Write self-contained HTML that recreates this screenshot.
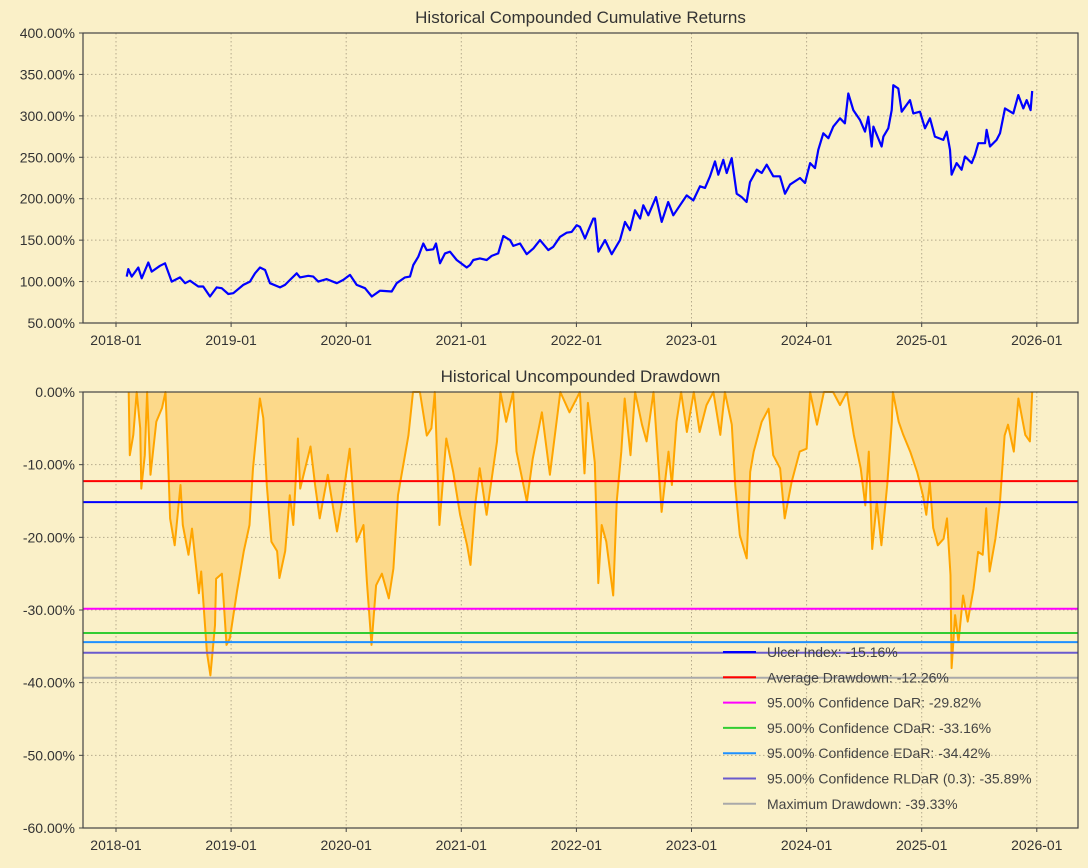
<!DOCTYPE html>
<html><head><meta charset="utf-8"><style>
html,body{margin:0;padding:0;background:#faf0c8;}
svg{display:block;font-family:"Liberation Sans","DejaVu Sans",sans-serif;}
</style></head><body>
<svg id="fig" width="1088" height="868" viewBox="0 0 1088 868"></svg>
<script>
const xTickLabels=["2018-01","2019-01","2020-01","2021-01","2022-01","2023-01","2024-01","2025-01","2026-01"];
const xTickYears=[0,1,2,3,4,5,6,7,8];
const topTicks=[400,350,300,250,200,150,100,50];
const botTicks=[0,-10,-20,-30,-40,-50,-60];
const cumYears=[0.093,0.107,0.136,0.194,0.223,0.281,0.310,0.382,0.426,0.484,0.556,0.600,0.643,0.715,0.758,0.817,0.875,0.918,0.976,1.019,1.106,1.164,1.208,1.251,1.295,1.338,1.425,1.468,1.512,1.570,1.599,1.671,1.714,1.758,1.831,1.918,1.975,2.033,2.091,2.163,2.222,2.294,2.395,2.439,2.511,2.554,2.583,2.626,2.670,2.699,2.757,2.780,2.815,2.858,2.902,2.960,3.047,3.076,3.104,3.162,3.221,3.264,3.321,3.365,3.423,3.452,3.510,3.568,3.626,3.684,3.756,3.799,3.858,3.916,3.959,4.003,4.031,4.075,4.104,4.147,4.162,4.191,4.249,4.307,4.379,4.422,4.466,4.509,4.553,4.581,4.625,4.692,4.741,4.798,4.842,4.900,4.958,5.016,5.074,5.117,5.161,5.204,5.233,5.276,5.306,5.349,5.393,5.436,5.479,5.508,5.567,5.610,5.653,5.711,5.769,5.812,5.856,5.943,5.986,6.030,6.073,6.102,6.145,6.189,6.232,6.290,6.333,6.362,6.406,6.464,6.507,6.536,6.566,6.580,6.652,6.667,6.710,6.739,6.753,6.797,6.826,6.898,6.927,6.985,7.029,7.072,7.115,7.188,7.217,7.246,7.260,7.303,7.347,7.376,7.434,7.463,7.492,7.550,7.564,7.593,7.651,7.680,7.724,7.796,7.839,7.883,7.912,7.946,7.960];
const cumValues=[106,115,106,117,104,123,112,119,122,100,105,98,101,94,94,82,93,92,85,86,96,100,110,117,114,98,93,96,102,110,105,107,106,100,103,98,102,108,96,92,82,89,88,98,105,106,120,130,146,138,139,146,122,134,136,126,117,120,126,128,126,131,134,155,150,143,146,133,140,150,138,142,154,159,160,168,166,152,162,176,176,136,150,133,150,172,162,186,176,192,180,202,172,196,180,192,204,198,215,213,227,245,229,247,231,249,206,202,196,220,235,231,241,227,227,206,217,225,219,243,237,259,279,273,287,297,291,327,307,295,281,299,263,287,263,275,285,307,337,333,305,319,303,305,285,297,275,271,281,259,229,243,235,251,243,253,267,267,283,263,271,279,309,303,325,309,319,307,330];
const ddYears=[0.11,0.12,0.15,0.18,0.21,0.22,0.25,0.27,0.30,0.35,0.40,0.43,0.45,0.47,0.51,0.56,0.58,0.63,0.66,0.72,0.74,0.79,0.82,0.86,0.87,0.92,0.96,0.99,1.05,1.11,1.16,1.19,1.25,1.28,1.31,1.35,1.40,1.42,1.47,1.51,1.54,1.58,1.60,1.69,1.73,1.77,1.84,1.92,1.97,2.03,2.09,2.15,2.18,2.22,2.26,2.31,2.37,2.41,2.45,2.54,2.58,2.64,2.70,2.74,2.77,2.81,2.87,2.93,2.99,3.05,3.08,3.12,3.16,3.22,3.31,3.34,3.39,3.45,3.48,3.57,3.62,3.70,3.77,3.86,3.94,4.03,4.07,4.10,4.16,4.19,4.22,4.26,4.32,4.35,4.39,4.42,4.47,4.51,4.57,4.61,4.67,4.74,4.80,4.83,4.87,4.91,4.96,5.02,5.07,5.13,5.19,5.25,5.29,5.35,5.38,5.42,5.48,5.51,5.54,5.61,5.67,5.71,5.77,5.81,5.87,5.94,6.00,6.03,6.09,6.15,6.23,6.29,6.35,6.41,6.47,6.51,6.54,6.57,6.61,6.65,6.70,6.74,6.75,6.80,6.84,6.90,6.96,7.01,7.04,7.07,7.10,7.14,7.19,7.22,7.25,7.26,7.29,7.32,7.36,7.40,7.45,7.49,7.53,7.56,7.59,7.64,7.68,7.72,7.75,7.80,7.84,7.90,7.94,7.96];
const ddValues=[0,-8.7,-5.9,0,-5.0,-13.3,-8.7,0,-11.4,-4.1,-2.2,0,-8.2,-17.4,-21.1,-12.8,-18.3,-22.4,-18.8,-27.7,-24.7,-35.8,-39.0,-32.1,-25.7,-25.0,-34.8,-33.9,-27.5,-21.9,-18.3,-10.5,-0.9,-3.6,-12.8,-20.6,-21.9,-25.6,-21.9,-14.2,-18.3,-6.4,-13.3,-7.5,-12.8,-17.4,-11.4,-19.2,-14.6,-7.8,-20.6,-18.3,-26.1,-34.8,-26.6,-25.0,-28.4,-24.3,-14.2,-6.0,0,0,-6.0,-5.0,0,-18.3,-6.4,-11.0,-16.9,-21.1,-23.8,-15.6,-10.5,-16.9,-6.8,0,-4.1,0,-8.2,-15.1,-9.2,-2.8,-11.4,0,-2.8,0,-11.2,-1.5,-9.7,-26.3,-18.3,-20.6,-28.0,-15.1,-8.2,-0.9,-8.7,0,-4.5,-6.8,0,-16.5,-8.2,-12.8,-4.1,0,-5.5,0,-5.5,-1.8,0,-5.9,0,-4.5,-12.8,-19.7,-22.9,-11.0,-8.2,-4.1,-2.3,-8.7,-10.5,-17.4,-12.4,-8.2,-7.8,0,-4.5,0,0,-1.8,0,-5.9,-10.5,-15.6,-8.2,-21.6,-15.1,-21.1,-12.8,-4.1,0,-4.1,-5.9,-8.2,-11.0,-14.2,-16.9,-12.4,-18.7,-21.1,-20.2,-17.4,-25.2,-38.0,-30.7,-34.4,-28.0,-31.6,-27.1,-22.0,-22.4,-16.0,-24.7,-20.2,-15.1,-6.0,-4.5,-8.2,-0.9,-5.9,-6.8,0];
const riskLabels=["Ulcer Index: -15.16%","Average Drawdown: -12.26%","95.00% Confidence DaR: -29.82%","95.00% Confidence CDaR: -33.16%","95.00% Confidence EDaR: -34.42%","95.00% Confidence RLDaR (0.3): -35.89%","Maximum Drawdown: -39.33%"];
const riskValues=[-15.16,-12.26,-29.82,-33.16,-34.42,-35.89,-39.33];
const riskNames=["ulcer-index-line","average-drawdown-line","dar-line","cdar-line","edar-line","rldar-line","max-drawdown-line"];
const riskColors=["#0000ff","#ff0000","#ff00ff","#32cd32","#1e90ff","#6a5acd","#a9a9a9"];

const NS="http://www.w3.org/2000/svg";
const svg=document.getElementById('fig');
const L=83,R=1078;
const T1=33,B1=323,T2=392,B2=828;
const xS=yr=>116+yr*115.1;
const y1=v=>T1+(400-v)/350*(B1-T1);
const y2=v=>T2+(0-v)/60*(B2-T2);
function mk(tag,at,parent){const e=document.createElementNS(NS,tag);for(const k in at)e.setAttribute(k,at[k]);(parent||svg).appendChild(e);return e;}

function axes(top,bot,yf,ticks,title,prefix){
  const g=mk('g',{});
  
  
  mk('rect',{x:L,y:top,width:R-L,height:bot-top,fill:'#faf0c8'},g);
  ticks.forEach(t=>{
    const yy=yf(t);
    const gl=mk('line',{x1:L,x2:R,y1:yy,y2:yy,stroke:'#b5aa8c','stroke-width':1,'stroke-dasharray':'1.5,2.5'},g);
    
    
    mk('line',{x1:L-4,x2:L,y1:yy,y2:yy,stroke:'#444'},g);
    const tx=mk('text',{x:L-8,y:yy+5,'text-anchor':'end','font-size':14,fill:'#333'},g);
    tx.textContent=t.toFixed(2)+'%';
    
    
  });
  xTickYears.forEach((yv,i)=>{
    const xx=xS(yv);
    const gl=mk('line',{x1:xx,x2:xx,y1:top,y2:bot,stroke:'#b5aa8c','stroke-width':1,'stroke-dasharray':'1.5,2.5'},g);
    
    
    mk('line',{x1:xx,x2:xx,y1:bot,y2:bot+4,stroke:'#444'},g);
    const tx=mk('text',{x:xx,y:bot+22,'text-anchor':'middle','font-size':14,fill:'#333'},g);
    tx.textContent=xTickLabels[i];
    
    
  });
  const tt=mk('text',{x:(L+R)/2,y:top-10,'text-anchor':'middle','font-size':17,fill:'#333'});
  tt.textContent=title;
  
  
  return g;
}
axes(T1,B1,y1,topTicks,'Historical Compounded Cumulative Returns','returns');
axes(T2,B2,y2,botTicks,'Historical Uncompounded Drawdown','drawdown');

// cumulative line
let d='';
cumYears.forEach((yr,i)=>{d+=(i?'L':'M')+xS(yr).toFixed(1)+','+y1(cumValues[i]).toFixed(1);});
const cl=mk('path',{d:d,fill:'none',stroke:'#0000ff','stroke-width':2.2,'stroke-linejoin':'round'});



// drawdown area + line
let dd='';
ddYears.forEach((yr,i)=>{dd+=(i?'L':'M')+xS(yr).toFixed(1)+','+y2(ddValues[i]).toFixed(1);});
const area=mk('path',{d:dd+'L'+xS(ddYears[ddYears.length-1]).toFixed(1)+','+y2(0)+'L'+xS(ddYears[0]).toFixed(1)+','+y2(0)+'Z',fill:'#fcd98a',stroke:'none'});


const dl=mk('path',{d:dd,fill:'none',stroke:'#ffa500','stroke-width':2,'stroke-linejoin':'round'});



// risk lines
riskValues.forEach((v,i)=>{
  const ln=mk('line',{x1:L,x2:R,y1:y2(v),y2:y2(v),stroke:riskColors[i],'stroke-width':2});
  
  
});

// spines
[[T1,B1],[T2,B2]].forEach(([t,b],k)=>{
  const sp=mk('rect',{x:L,y:t,width:R-L,height:b-t,fill:'none',stroke:'#444','stroke-width':1.2});
  
  
});

// legend
const lg=mk('g',{});


riskLabels.forEach((lab,i)=>{
  const yy=652+i*25.3;
  const ent=mk('g',{},lg);
  
  
  mk('line',{x1:723,x2:756,y1:yy,y2:yy,stroke:riskColors[i],'stroke-width':2},ent);
  const tx=mk('text',{x:767,y:yy+5,'font-size':14,fill:'#444'},ent);
  tx.textContent=lab;
});
</script>
</body></html>
